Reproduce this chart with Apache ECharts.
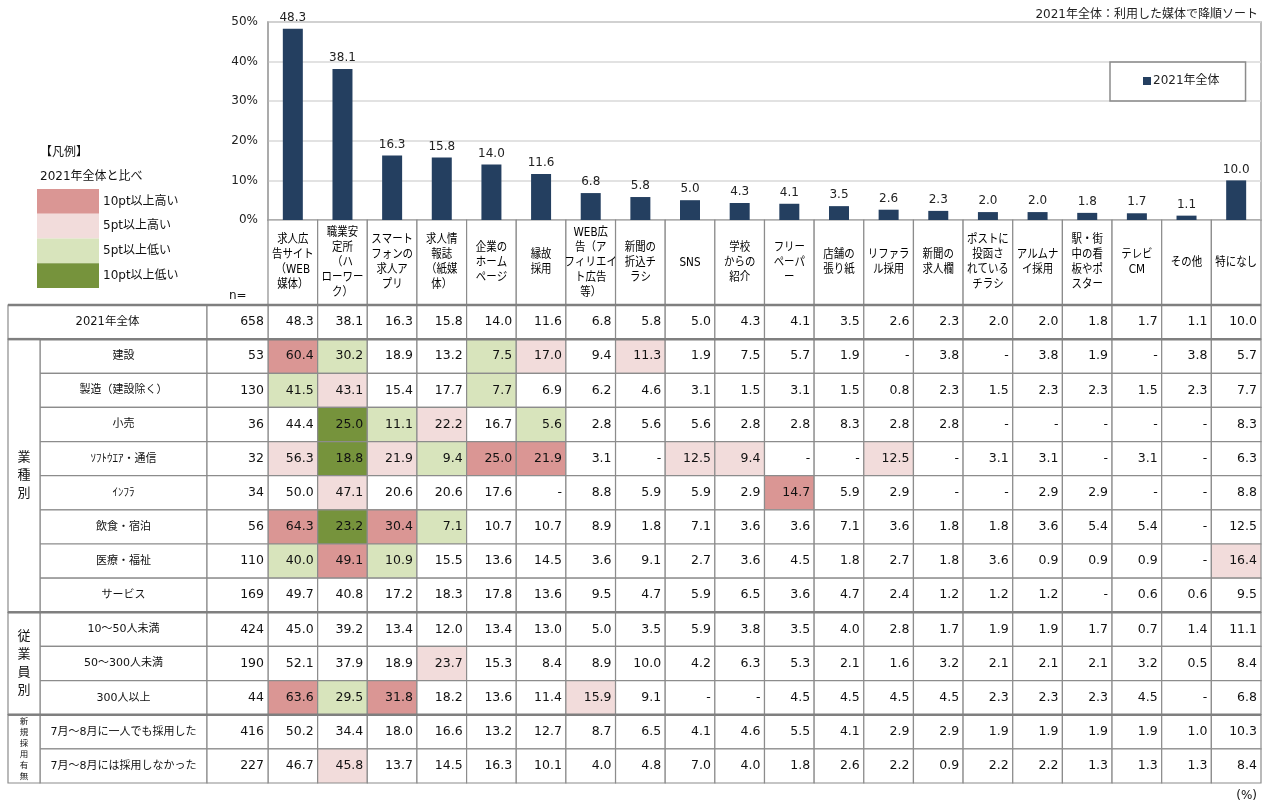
<!DOCTYPE html>
<html>
<head>
<meta charset="utf-8">
<script src="https://cdn.jsdelivr.net/npm/echarts@6/dist/echarts.min.js"></script>
<style>
html,body{margin:0;padding:0;background:#fff}
#chart{width:1268px;height:805px}
</style>
</head>
<body>
<div id="chart"></div>
<script>
// ---- data ----
const media = [
  '求人広\n告サイト\n（WEB\n媒体）', '職業安\n定所\n（ハ\nローワー\nク）', 'スマート\nフォンの\n求人ア\nプリ',
  '求人情\n報誌\n（紙媒\n体）', '企業の\nホーム\nページ', '縁故\n採用', 'WEB広\n告（ア\nフィリエイ\nト広告\n等）',
  '新聞の\n折込チ\nラシ', 'SNS', '学校\nからの\n紹介', 'フリー\nペーパ\nー', '店舗の\n張り紙', 'リファラ\nル採用',
  '新聞の\n求人欄', 'ポストに\n投函さ\nれている\nチラシ', 'アルムナ\nイ採用', '駅・街\n中の看\n板やポ\nスター',
  'テレビ\nCM', 'その他', '特になし'
];
const overallName = '2021年全体';
const overallN = 658;
const overall = [48.3, 38.1, 16.3, 15.8, 14.0, 11.6, 6.8, 5.8, 5.0, 4.3, 4.1, 3.5, 2.6, 2.3, 2.0, 2.0, 1.8, 1.7, 1.1, 10.0];

const rowNames = [
  '建設', '製造（建設除く）', '小売', 'ｿﾌﾄｳｴｱ・通信', 'ｲﾝﾌﾗ', '飲食・宿泊', '医療・福祉', 'サービス',
  '10〜50人未満', '50〜300人未満', '300人以上',
  '7月〜8月に一人でも採用した', '7月〜8月には採用しなかった'
];
const rowN = [53, 130, 36, 32, 34, 56, 110, 169, 424, 190, 44, 416, 227];
const rowValues = [
  [60.4, 30.2, 18.9, 13.2, 7.5, 17.0, 9.4, 11.3, 1.9, 7.5, 5.7, 1.9, null, 3.8, null, 3.8, 1.9, null, 3.8, 5.7],
  [41.5, 43.1, 15.4, 17.7, 7.7, 6.9, 6.2, 4.6, 3.1, 1.5, 3.1, 1.5, 0.8, 2.3, 1.5, 2.3, 2.3, 1.5, 2.3, 7.7],
  [44.4, 25.0, 11.1, 22.2, 16.7, 5.6, 2.8, 5.6, 5.6, 2.8, 2.8, 8.3, 2.8, 2.8, null, null, null, null, null, 8.3],
  [56.3, 18.8, 21.9, 9.4, 25.0, 21.9, 3.1, null, 12.5, 9.4, null, null, 12.5, null, 3.1, 3.1, null, 3.1, null, 6.3],
  [50.0, 47.1, 20.6, 20.6, 17.6, null, 8.8, 5.9, 5.9, 2.9, 14.7, 5.9, 2.9, null, null, 2.9, 2.9, null, null, 8.8],
  [64.3, 23.2, 30.4, 7.1, 10.7, 10.7, 8.9, 1.8, 7.1, 3.6, 3.6, 7.1, 3.6, 1.8, 1.8, 3.6, 5.4, 5.4, null, 12.5],
  [40.0, 49.1, 10.9, 15.5, 13.6, 14.5, 3.6, 9.1, 2.7, 3.6, 4.5, 1.8, 2.7, 1.8, 3.6, 0.9, 0.9, 0.9, null, 16.4],
  [49.7, 40.8, 17.2, 18.3, 17.8, 13.6, 9.5, 4.7, 5.9, 6.5, 3.6, 4.7, 2.4, 1.2, 1.2, 1.2, null, 0.6, 0.6, 9.5],
  [45.0, 39.2, 13.4, 12.0, 13.4, 13.0, 5.0, 3.5, 5.9, 3.8, 3.5, 4.0, 2.8, 1.7, 1.9, 1.9, 1.7, 0.7, 1.4, 11.1],
  [52.1, 37.9, 18.9, 23.7, 15.3, 8.4, 8.9, 10.0, 4.2, 6.3, 5.3, 2.1, 1.6, 3.2, 2.1, 2.1, 2.1, 3.2, 0.5, 8.4],
  [63.6, 29.5, 31.8, 18.2, 13.6, 11.4, 15.9, 9.1, null, null, 4.5, 4.5, 4.5, 4.5, 2.3, 2.3, 2.3, 4.5, null, 6.8],
  [50.2, 34.4, 18.0, 16.6, 13.2, 12.7, 8.7, 6.5, 4.1, 4.6, 5.5, 4.1, 2.9, 2.9, 1.9, 1.9, 1.9, 1.9, 1.0, 10.3],
  [46.7, 45.8, 13.7, 14.5, 16.3, 10.1, 4.0, 4.8, 7.0, 4.0, 1.8, 2.6, 2.2, 0.9, 2.2, 2.2, 1.3, 1.3, 1.3, 8.4]
];
// row groups (indices into rowNames)
const groupNames = ['業種別', '従業員別', '新規採用有無'];
const groupRanges = [[0, 7], [8, 10], [11, 12]];

const toneLabels = ['10pt以上高い', '5pt以上高い', '5pt以上低い', '10pt以上低い'];

// ---- styles / layout ----
const toneColors = ['#da9694', '#f2dcdb', '#d8e4bc', '#76933c'];
const BAR_COLOR = '#243f60';
const LINE = '#8c8c8c';
const FONT = '"DejaVu Sans","Noto Sans CJK JP",sans-serif';
const LEFT_COLS = [0, 32, 199, 260];   // group | row label | n

// comparison tone vs the overall row
function tone(v, base) {
  if (v == null) return -1;
  const d = Math.round((v - base) * 10) / 10;
  if (d >= 10) return 0;
  if (d >= 5) return 1;
  if (d <= -10) return 3;
  if (d <= -5) return 2;
  return -1;
}
const fmt = v => (v == null ? '-' : v.toFixed(1));

// table rows: the overall row first, then every breakdown row
const tableRows = [overallName].concat(rowNames);
const tableValues = [overall].concat(rowValues);
const tableN = [overallN].concat(rowN);
const sepRows = [0, 1].concat(groupRanges.slice(1).map(g => g[0] + 1));

const bodyCells = [];
tableValues.forEach((vals, r) => vals.forEach((v, c) => {
  bodyCells.push({ c, r, v, t: r === 0 ? -1 : tone(v, overall[c]) });
}));

const leftCells = [];
tableRows.forEach((name, r) => {
  if (r === 0) {
    leftCells.push({ x0: LEFT_COLS[0], x1: LEFT_COLS[2], r0: r, r1: r, text: name, align: 'center', size: 11.5 });
  } else {
    leftCells.push({ x0: LEFT_COLS[1], x1: LEFT_COLS[2], r0: r, r1: r, text: name, align: 'center', size: 11 });
  }
  leftCells.push({ x0: LEFT_COLS[2], x1: LEFT_COLS[3], r0: r, r1: r, text: String(tableN[r]), align: 'right', size: 12.5 });
});
groupNames.forEach((g, i) => {
  const small = g.length > 4;
  leftCells.push({
    x0: LEFT_COLS[0], x1: LEFT_COLS[1], r0: groupRanges[i][0] + 1, r1: groupRanges[i][1] + 1,
    text: g.split('').join('\n'), align: 'center', size: small ? 8.5 : 13, lh: small ? 11 : 18
  });
});

function sepLine(x1, x2, y) {
  return { type: 'line', z2: 10, shape: { x1, y1: y, x2, y2: y }, style: { stroke: '#7f7f7f', lineWidth: 2.5 } };
}

const chart = echarts.init(document.getElementById('chart'), null, { renderer: 'canvas' });

chart.setOption({
  animation: false,
  backgroundColor: '#fff',
  textStyle: { fontFamily: FONT },
  title: {
    text: '2021年全体：利用した媒体で降順ソート',
    right: 5, top: 4,
    textStyle: { fontSize: 12, fontWeight: 'normal', color: '#222', fontFamily: FONT }
  },
  legend: {
    data: [overallName],
    left: 1110, top: 62,
    padding: [13, 26, 14, 33],
    borderColor: '#8c8c8c', borderWidth: 1.5,
    icon: 'rect', itemWidth: 8, itemHeight: 8, itemGap: 2,
    textStyle: { fontSize: 12, color: '#222', fontFamily: FONT, padding: [0, 0, 0, -3] }
  },
  grid: [
    { left: 268, top: 22, width: 993, height: 198, show: true, borderColor: '#a6a6a6', borderWidth: 1.5 },
    { left: 268, top: 220, width: 993, height: 85 },
    { left: 268, top: 305, width: 993, height: 478 },
    { left: 8, top: 305, width: 260, height: 478 }
  ],
  xAxis: [
    { gridIndex: 0, type: 'category', data: media, axisLabel: { show: false }, axisTick: { show: false }, axisLine: { show: false } },
    { gridIndex: 1, type: 'category', data: media, show: false },
    { gridIndex: 2, type: 'category', data: media, show: false },
    { gridIndex: 3, type: 'value', min: LEFT_COLS[0], max: LEFT_COLS[3], show: false }
  ],
  yAxis: [
    {
      gridIndex: 0, type: 'value', min: 0, max: 50, interval: 10,
      axisLabel: { formatter: '{value}%', fontSize: 12, color: '#222', margin: 10, fontFamily: FONT },
      axisLine: { show: true, lineStyle: { color: '#a6a6a6', width: 1.5 } },
      axisTick: { show: false },
      splitLine: { lineStyle: { color: '#d9d9d9', width: 1.5 } }
    },
    { gridIndex: 1, type: 'category', data: ['h'], show: false },
    { gridIndex: 2, type: 'category', data: tableRows, inverse: true, show: false },
    { gridIndex: 3, type: 'category', data: tableRows, inverse: true, show: false }
  ],
  series: [
    {
      name: overallName, type: 'bar', xAxisIndex: 0, yAxisIndex: 0,
      data: overall, barWidth: 20,
      itemStyle: { color: BAR_COLOR },
      label: {
        show: true, position: 'top', distance: 5,
        formatter: p => p.value.toFixed(1),
        fontSize: 12, color: '#222', fontFamily: FONT
      }
    },
    {
      // column headers
      type: 'custom', xAxisIndex: 1, yAxisIndex: 1, encode: { x: 0, y: 1 },
      data: media.map((m, i) => [i, 0]),
      renderItem(params, api) {
        const p = api.coord([api.value(0), api.value(1)]);
        const s = api.size([1, 1]);
        const x = p[0] - s[0] / 2, y = p[1] - s[1] / 2;
        return {
          type: 'group', children: [
            { type: 'rect', shape: { x, y, width: s[0], height: s[1] }, style: { fill: '#fff', stroke: LINE, lineWidth: 1.2 } },
            { type: 'text', x: p[0], y: p[1], scaleX: 0.87,
              style: { text: media[params.dataIndex], x: 0, y: 0, align: 'center', verticalAlign: 'middle',
                fontSize: 12, lineHeight: 15, fontFamily: FONT, fill: '#000' } }
          ]
        };
      }
    },
    {
      // value cells
      type: 'custom', xAxisIndex: 2, yAxisIndex: 2, encode: { x: 0, y: 1 },
      data: bodyCells.map(d => [d.c, d.r]),
      renderItem(params, api) {
        const cell = bodyCells[params.dataIndex];
        const p = api.coord([cell.c, cell.r]);
        const s = api.size([1, 1]);
        const x = p[0] - s[0] / 2, y = p[1] - s[1] / 2;
        const children = [
          { type: 'rect', shape: { x, y, width: s[0], height: s[1] },
            style: { fill: cell.t >= 0 ? toneColors[cell.t] : '#fff', stroke: LINE, lineWidth: 1.2 } },
          { type: 'text', z2: 5, style: { text: fmt(cell.v), x: x + s[0] - 4, y: p[1], align: 'right', verticalAlign: 'middle',
            fontSize: 12.5, fontFamily: FONT, fill: '#111' } }
        ];
        if (sepRows.indexOf(cell.r) >= 0) children.push(sepLine(x, x + s[0], y));
        return { type: 'group', children };
      }
    },
    {
      // row labels, n and group labels
      type: 'custom', xAxisIndex: 3, yAxisIndex: 3, encode: { x: 0, y: 1 },
      data: leftCells.map(d => [d.x0, d.r0]),
      renderItem(params, api) {
        const it = leftCells[params.dataIndex];
        const p0 = api.coord([it.x0, it.r0]);
        const p1 = api.coord([it.x1, it.r1]);
        const band = api.size([0, 1], [it.x0, it.r0])[1];
        const x = p0[0], w = p1[0] - p0[0];
        const y = p0[1] - band / 2, h = p1[1] + band / 2 - y;
        const tx = it.align === 'right' ? x + w - 4 : x + w / 2;
        const children = [
          { type: 'rect', shape: { x, y, width: w, height: h }, style: { fill: '#fff', stroke: LINE, lineWidth: 1.2 } },
          { type: 'text', z2: 5, style: { text: it.text, x: tx, y: y + h / 2, align: it.align, verticalAlign: 'middle',
            fontSize: it.size, lineHeight: it.lh || it.size + 4, fontFamily: FONT, fill: '#111' } }
        ];
        if (sepRows.indexOf(it.r0) >= 0) children.push(sepLine(x, x + w, y));
        return { type: 'group', children };
      }
    }
  ],
  graphic: [
    { type: 'text', x: 40, y: 153, style: { text: '【凡例】', fontSize: 12, fontFamily: FONT, fill: '#111', verticalAlign: 'middle' } },
    { type: 'text', x: 40, y: 177, style: { text: '2021年全体と比べ', fontSize: 12, fontFamily: FONT, fill: '#111', verticalAlign: 'middle' } }
  ].concat(toneLabels.map((t, i) => ({
    type: 'group', children: [
      { type: 'rect', shape: { x: 37, y: 189 + i * 24.75, width: 62, height: 24.75 }, style: { fill: toneColors[i] } },
      { type: 'text', x: 103, y: 201.5 + i * 24.75, style: { text: t, fontSize: 12, fontFamily: FONT, fill: '#111', verticalAlign: 'middle' } }
    ]
  }))).concat([
    { type: 'text', x: 229, y: 296, style: { text: 'n=', fontSize: 12, fontFamily: FONT, fill: '#111', verticalAlign: 'middle' } },
    { type: 'text', x: 1257, y: 796, style: { text: '(%)', fontSize: 12, fontFamily: FONT, fill: '#111', align: 'right', verticalAlign: 'middle' } }
  ])
});
</script>
</body>
</html>
